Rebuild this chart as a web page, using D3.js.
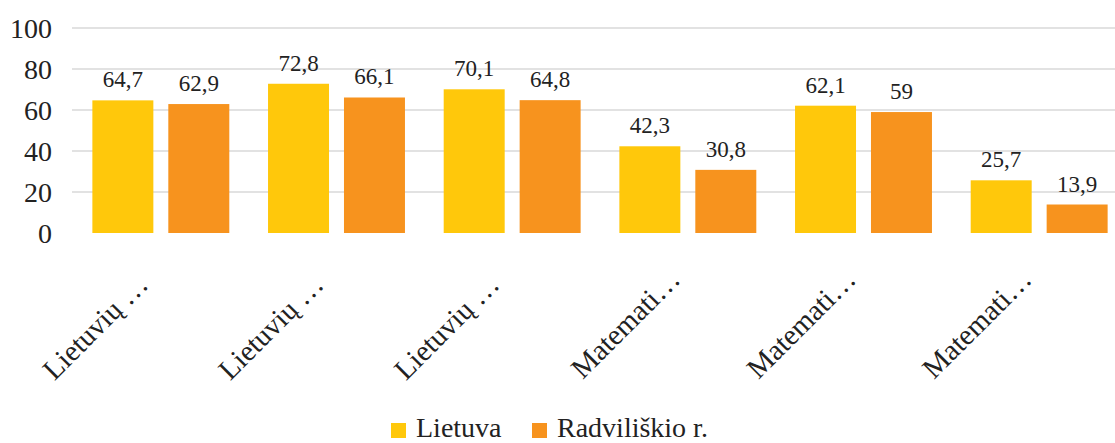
<!DOCTYPE html>
<html>
<head>
<meta charset="utf-8">
<script src="https://cdn.jsdelivr.net/npm/d3@7"></script>
<style>
  body { margin: 0; background: #fff; }
  svg text { white-space: pre; }
</style>
</head>
<body>
<svg id="chart" width="1115" height="443"></svg>
<script>
// chart data
const categories = ['Lietuvių … ', 'Lietuvių … ', 'Lietuvių … ', 'Matemati…', 'Matemati…', 'Matemati…'];
const series = ['Lietuva', 'Radviliškio r.'];
const lietuva = [64.7, 72.8, 70.1, 42.3, 62.1, 25.7];
const radviliskio = [62.9, 66.1, 64.8, 30.8, 59, 13.9];
const yTicks = [0, 20, 40, 60, 80, 100];
const colors = ['#FFC80B', '#F7931E'];

const FONT = '"Liberation Serif", "Times New Roman", serif';

const svg = d3.select('#chart');

const y = d3.scaleLinear().domain([0, 100]).range([233, 28]);

const x0 = d3.scaleBand()
    .domain(d3.range(categories.length))
    .range([73, 1127]);

const x1 = d3.scaleBand()
    .domain(series)
    .range([0, x0.bandwidth()])
    .paddingInner(0.197)
    .paddingOuter(0.255);

// gridlines
svg.append('g')
    .selectAll('line')
    .data(yTicks.filter(d => d > 0))
    .enter()
    .append('line')
    .attr('x1', 72)
    .attr('x2', 1115)
    .attr('y1', d => y(d))
    .attr('y2', d => y(d))
    .attr('stroke', '#d9d9d9')
    .attr('stroke-width', 1.3);

// y axis labels
svg.append('g')
    .selectAll('text')
    .data(yTicks)
    .enter()
    .append('text')
    .attr('x', 52)
    .attr('y', d => y(d))
    .attr('dy', '0.34em')
    .attr('text-anchor', 'end')
    .style('font-family', FONT)
    .style('font-size', '28px')
    .attr('fill', '#222')
    .text(d => d);

const rows = categories.map((c, i) => ({ i, values: [lietuva[i], radviliskio[i]] }));

const groups = svg.append('g')
    .selectAll('g')
    .data(rows)
    .enter()
    .append('g')
    .attr('transform', d => `translate(${x0(d.i)},0)`);

groups.selectAll('rect')
    .data(d => d.values.map((v, k) => ({ key: series[k], v, k })))
    .enter()
    .append('rect')
    .attr('x', d => x1(d.key))
    .attr('width', x1.bandwidth())
    .attr('y', d => y(d.v))
    .attr('height', d => y(0) - y(d.v))
    .attr('fill', d => colors[d.k]);

groups.selectAll('text.val')
    .data(d => d.values.map((v, k) => ({ key: series[k], v, k })))
    .enter()
    .append('text')
    .attr('class', 'val')
    .attr('x', d => x1(d.key) + x1.bandwidth() / 2)
    .attr('y', d => y(d.v) - 13)
    .attr('text-anchor', 'middle')
    .style('font-family', FONT)
    .style('font-size', '23px')
    .attr('fill', '#222')
    .text(d => String(d.v).replace('.', ','));

// category labels, rotated
svg.append('g')
    .selectAll('text')
    .data(categories)
    .enter()
    .append('text')
    .attr('transform', (d, i) => `translate(${x0(i) + x0.bandwidth() / 2 - 6},${281}) rotate(-45)`)
    .attr('text-anchor', 'end')
    .style('font-family', FONT)
    .style('font-size', '29px')
    .attr('fill', '#222')
    .text(d => d);

// legend
const legend = svg.append('g').attr('transform', 'translate(391,423)');
const legendX = [0, 141];
series.forEach((s, k) => {
    const item = legend.append('g').attr('transform', `translate(${legendX[k]},0)`);
    item.append('rect').attr('width', 15).attr('height', 15).attr('fill', colors[k]);
    item.append('text')
        .attr('x', 25)
        .attr('y', 14)
        .style('font-family', FONT)
        .style('font-size', '28px')
        .attr('fill', '#222')
        .text(s);
});
</script>
</body>
</html>
